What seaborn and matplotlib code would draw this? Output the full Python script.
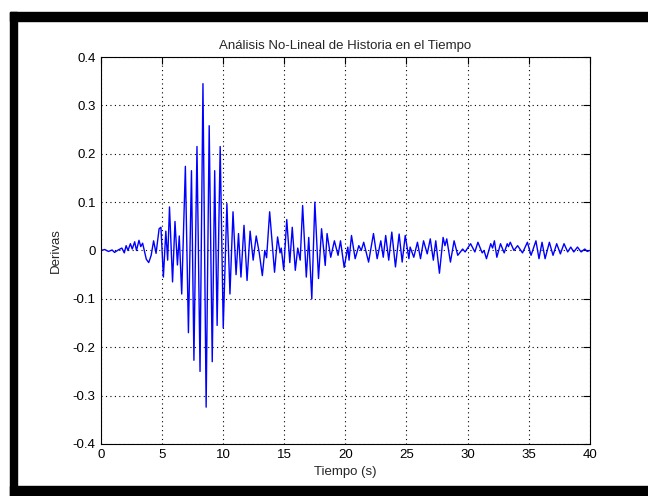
import pandas as pd
import matplotlib.pyplot as plt
import seaborn as sns
from matplotlib.patches import Rectangle

# Valores (picos y valles de la respuesta)
tiempo = [0.0, 0.3, 0.6, 0.9, 1.1, 1.4, 1.7, 1.9, 2.05, 2.2, 2.4, 2.55, 2.75, 2.9,
          3.1, 3.25, 3.4, 3.7, 3.9, 4.1, 4.3, 4.5, 4.75, 4.9, 5.1, 5.3, 5.45, 5.6,
          5.85, 6.05, 6.25, 6.4, 6.6, 6.9, 7.15, 7.4, 7.6, 7.85, 8.1, 8.34, 8.6,
          8.85, 9.1, 9.3, 9.5, 9.75, 10.0, 10.3, 10.55, 10.8, 11.05, 11.25, 11.45,
          11.7, 11.95, 12.2, 12.45, 12.7, 12.95, 13.2, 13.4, 13.55, 13.8, 14.2,
          14.45, 14.65, 14.75, 14.95, 15.2, 15.45, 15.65, 15.9, 16.1, 16.3, 16.5,
          16.8, 17.0, 17.25, 17.5, 17.8, 18.05, 18.35, 18.5, 18.8, 19.1, 19.4,
          19.6, 19.9, 20.2, 20.3, 20.5, 20.8, 21.1, 21.3, 21.5, 21.9, 22.3, 22.6,
          22.9, 23.1, 23.3, 23.55, 23.8, 24.1, 24.4, 24.65, 24.9, 25.2, 25.3,
          25.6, 25.9, 26.15, 26.4, 26.7, 26.95, 27.2, 27.4, 27.7, 28.0, 28.15,
          28.3, 28.6, 28.9, 29.2, 29.6, 29.8, 30.25, 30.6, 30.85, 31.2, 31.35,
          31.55, 31.9, 32.05, 32.2, 32.4, 32.7, 33.0, 33.25, 33.35, 33.5, 33.8,
          34.1, 34.5, 34.9, 35.2, 35.6, 35.85, 36.1, 36.35, 36.7, 37.0, 37.3,
          37.6, 37.9, 38.2, 38.45, 38.7, 39.0, 39.3, 39.6, 39.8, 40.0]
derivas = [0.0, 0.002, -0.002, 0.001, -0.004, 0.001, 0.005, -0.005, 0.01, 0.0, 0.014,
           0.003, 0.018, 0.0, 0.021, 0.008, 0.015, -0.018, -0.025, -0.01, 0.02,
           -0.006, 0.045, 0.048, -0.055, 0.04, -0.02, 0.09, -0.065, 0.06, -0.03,
           0.03, -0.09, 0.174, -0.17, 0.165, -0.227, 0.215, -0.25, 0.345, -0.324,
           0.258, -0.23, 0.165, -0.155, 0.215, -0.16, 0.097, -0.09, 0.08, -0.05,
           0.035, -0.055, 0.052, -0.062, 0.04, -0.02, 0.03, -0.005, -0.052, 0.0,
           -0.015, 0.08, -0.045, 0.028, -0.005, 0.005, -0.04, 0.064, -0.025, 0.048,
           -0.041, 0.005, -0.02, 0.093, -0.055, 0.027, -0.1, 0.1, -0.058, 0.045,
           -0.031, 0.035, -0.014, 0.02, -0.01, 0.02, -0.035, 0.007, -0.02, 0.031,
           -0.017, 0.01, 0.0, 0.017, -0.024, 0.035, -0.017, 0.02, -0.014, 0.031,
           -0.02, 0.038, -0.034, 0.034, -0.024, 0.031, -0.017, 0.007, -0.014, 0.017,
           -0.017, 0.02, -0.007, 0.024, -0.02, 0.02, -0.047, 0.027, 0.01, 0.024,
           -0.024, 0.02, -0.01, 0.003, -0.003, 0.014, -0.003, 0.017, -0.005, 0.0,
           -0.017, 0.014, 0.005, 0.02, -0.014, 0.014, -0.005, 0.014, 0.008, 0.017,
           0.0, 0.01, -0.005, 0.017, -0.01, 0.02, -0.017, 0.017, -0.017, 0.017,
           -0.01, 0.014, -0.007, 0.014, -0.003, 0.007, -0.003, 0.007, -0.003,
           0.003, -0.002, 0.0]
xticks = [0, 5, 10, 15, 20, 25, 30, 35, 40]
yticks = [-0.4, -0.3, -0.2, -0.1, 0, 0.1, 0.2, 0.3, 0.4]
ytick_labels = ['-0.4', '-0.3', '-0.2', '-0.1', '0', '0.1', '0.2', '0.3', '0.4']

df = pd.DataFrame({'Tiempo': tiempo, 'Derivas': derivas})

sns.set_style('white')
plt.rcParams['font.family'] = ['Liberation Sans', 'DejaVu Sans']

fig = plt.figure(figsize=(6.48, 4.96), dpi=100)
ax = fig.add_axes([0.156, 0.105, 0.754, 0.78])

sns.lineplot(data=df, x='Tiempo', y='Derivas', color='#0000ff', linewidth=1.0,
             estimator=None, sort=False, ax=ax)

ax.set_xlim(0, 40)
ax.set_ylim(-0.4, 0.4)
ax.set_xticks(xticks)
ax.set_xticklabels([str(v) for v in xticks])
ax.set_yticks(yticks)
ax.set_yticklabels(ytick_labels)
ax.grid(True, color='black', linestyle=(0, (1, 3)), linewidth=0.8)
ax.tick_params(direction='in', length=5, width=0.8, top=True, right=True,
               labelsize=9.5, colors='black', pad=4)
for s in ax.spines.values():
    s.set_color('black')
    s.set_linewidth(0.8)

ax.set_title('Análisis No-Lineal de Historia en el Tiempo', fontsize=9.5, pad=6)
ax.set_xlabel('Tiempo (s)', fontsize=9.5, labelpad=3)
ax.set_ylabel('Derivas', fontsize=9.5, labelpad=8)

# Marco negro de la captura
fig.patches.append(Rectangle((0.015, 0.0), 0.011, 0.975, transform=fig.transFigure,
                             color='black', zorder=10))
fig.patches.append(Rectangle((0.015, 0.958), 0.985, 0.017, transform=fig.transFigure,
                             color='black', zorder=10))
fig.patches.append(Rectangle((0.015, 0.0), 0.985, 0.02, transform=fig.transFigure,
                             color='black', zorder=10))

fig.savefig('out.png', dpi=100)
